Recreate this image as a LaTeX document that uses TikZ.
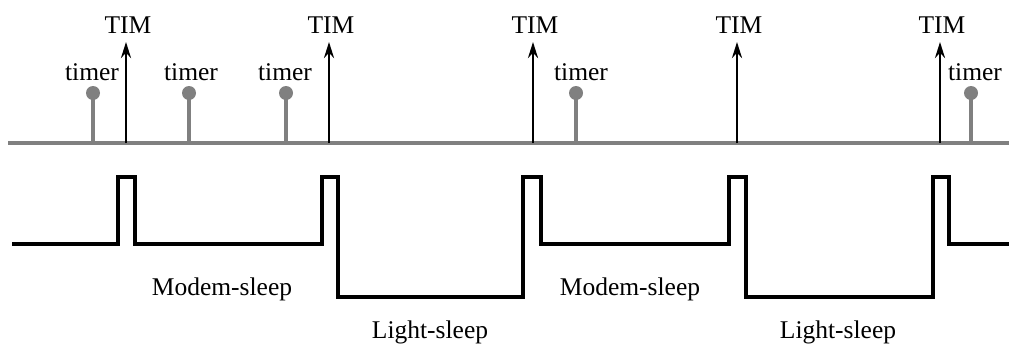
\documentclass[tikz,border=0pt]{standalone}
\usepackage{fontspec}
\setmainfont{Liberation Serif}
\usetikzlibrary{arrows.meta}
\definecolor{tgray}{RGB}{128,128,128}
\begin{document}
\begin{tikzpicture}[x=1pt,y=-1pt,
  lbl/.style={inner sep=0pt, anchor=base, font=\fontsize{25.5}{30}\selectfont},
  axisline/.style={draw=tgray, line width=3.2pt},
  wave/.style={draw=black, line width=3.2pt, line join=miter},
  timarrow/.style={draw=black, line width=2.6pt, -{Stealth[length=16pt,width=10pt]}},
  stem/.style={draw=tgray, line width=3.2pt},
  ball/.style={circle, fill=tgray, inner sep=0pt, minimum size=14pt}]
\useasboundingbox (0,0) rectangle (1009,343);
\coordinate (a0) at (8,143);
\coordinate (a1) at (1009,143);
\draw[axisline] (a0) -- (a1);
\foreach \i/\x in {1/126,2/329,3/533,4/737,5/940} {
  \coordinate (tb\i) at (\x,143);
  \coordinate (tt\i) at (\x,42);
  \node[lbl] (tim\i) at (\x+2,33) {TIM};
  \draw[timarrow] (tb\i) -- (tt\i);
}
\foreach \i/\x/\lx in {1/93/92,2/189/191,3/286/285,4/576/581,5/971/975} {
  \coordinate (sb\i) at (\x,143);
  \node[ball] (b\i) at (\x,93) {};
  \draw[stem] (sb\i) -- (b\i.center);
  \node[lbl] (tl\i) at (\lx,80) {timer};
}
\draw[wave] (12,244) -- (118,244) -- (118,177) -- (135,177) -- (135,244)
  -- (322,244) -- (322,177) -- (338,177) -- (338,297) -- (523,297)
  -- (523,177) -- (541,177) -- (541,244) -- (729,244) -- (729,177)
  -- (746,177) -- (746,297) -- (933,297) -- (933,177) -- (949,177)
  -- (949,244) -- (1009,244);
\node[lbl] (ms1) at (222,295) {Modem-sleep};
\node[lbl] (ms2) at (630,295) {Modem-sleep};
\node[lbl] (ls1) at (430,338) {Light-sleep};
\node[lbl] (ls2) at (838,338) {Light-sleep};
\end{tikzpicture}
\end{document}
